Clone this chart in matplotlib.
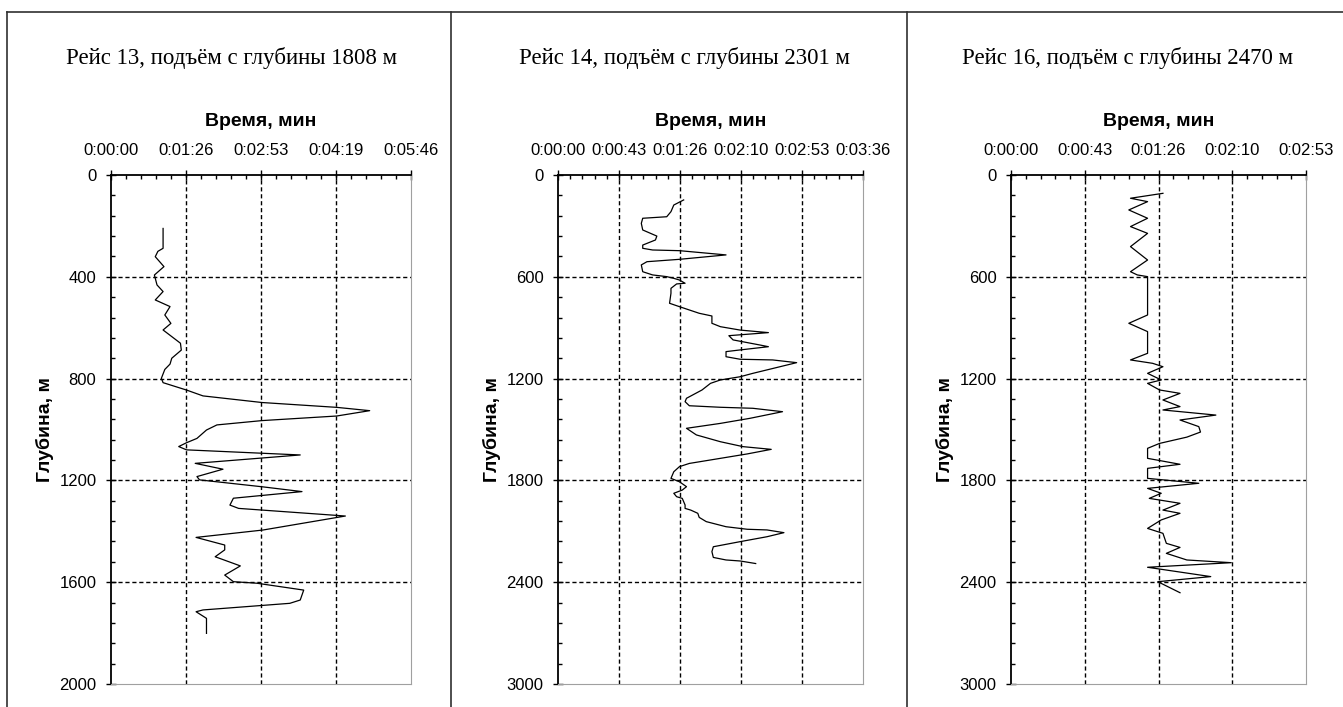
import numpy as np
import matplotlib
matplotlib.use('Agg')
import matplotlib.pyplot as plt
from matplotlib.ticker import FuncFormatter, MultipleLocator
from matplotlib.lines import Line2D

W, H = 1343, 707

# ---- data: time (s) vs depth (m) ----
titles = ['Рейс 13, подъём с глубины 1808 м',
          'Рейс 14, подъём с глубины 2301 м',
          'Рейс 16, подъём с глубины 2470 м']

t13 = [60, 60, 54, 51, 61, 50, 53, 60, 51, 68, 62, 69, 60, 80, 81, 70, 68, 62, 58, 60,
       87, 106, 174, 260, 298, 260, 174, 122, 110, 99, 87, 78, 87, 218, 97, 129, 99, 102,
       174, 220, 141, 137, 147, 270, 175, 98, 131, 131, 120, 149, 131, 141, 168, 222, 218,
       206, 106, 98, 110, 110]
d13 = [210, 288, 300, 321, 360, 393, 432, 458, 491, 517, 550, 583, 609, 661, 688, 720, 743,
       764, 799, 816, 845, 868, 894, 913, 926, 947, 965, 982, 1002, 1035, 1052, 1067, 1080,
       1100, 1133, 1156, 1185, 1198, 1225, 1244, 1270, 1297, 1310, 1340, 1395, 1424, 1454,
       1473, 1500, 1536, 1572, 1598, 1604, 1631, 1670, 1683, 1709, 1716, 1742, 1801]

t14 = [89, 82, 80, 77, 60, 59, 60, 70, 69, 60, 60, 67, 86, 119, 86, 63, 59, 60, 67, 77, 82,
       86, 90, 84, 80, 80, 79, 86, 100, 109, 109, 115, 129, 149, 121, 124, 143, 149, 129,
       119, 119, 129, 152, 169, 138, 129, 115, 108, 102, 91, 90, 93, 115, 138, 159, 136,
       115, 91, 98, 115, 131, 151, 134, 115, 93, 86, 82, 80, 86, 91, 88, 82, 84, 88, 90,
       90, 94, 99, 100, 105, 119, 134, 148, 160, 148, 129, 110, 109, 110, 119, 129, 140]
d14 = [147, 177, 216, 246, 255, 285, 324, 360, 383, 413, 432, 442, 446, 471, 497, 511, 530,
       570, 589, 599, 609, 619, 638, 642, 668, 697, 756, 776, 815, 831, 874, 894, 914, 929,
       947, 972, 1002, 1012, 1031, 1041, 1071, 1086, 1090, 1106, 1169, 1189, 1208, 1228,
       1267, 1316, 1336, 1360, 1369, 1375, 1395, 1434, 1464, 1493, 1532, 1572, 1601, 1617,
       1644, 1670, 1700, 1719, 1749, 1788, 1808, 1837, 1857, 1876, 1896, 1906, 1945, 1965,
       1975, 1994, 2018, 2043, 2073, 2088, 2092, 2108, 2132, 2161, 2191, 2220, 2254, 2269,
       2275, 2290]

t16 = [89, 70, 80, 69, 80, 70, 80, 70, 80, 70, 74, 80, 80, 80, 69, 80, 80, 70, 83, 89, 80,
       88, 80, 87, 99, 89, 99, 89, 120, 99, 110, 111, 103, 87, 80, 80, 99, 80, 80, 110, 80,
       88, 81, 99, 89, 99, 88, 80, 89, 91, 99, 91, 103, 129, 80, 117, 86, 99]
d16 = [108, 137, 157, 206, 255, 304, 344, 422, 501, 570, 589, 599, 619, 825, 874, 923, 1051,
       1090, 1110, 1130, 1169, 1208, 1228, 1267, 1287, 1326, 1365, 1385, 1415, 1444, 1483,
       1515, 1545, 1582, 1611, 1670, 1705, 1729, 1788, 1817, 1847, 1876, 1906, 1935, 1975,
       1994, 2033, 2083, 2112, 2171, 2195, 2230, 2269, 2285, 2312, 2367, 2397, 2462]

series = [(t13, d13), (t14, d14), (t16, d16)]
x_max = [345.6, 216.0, 172.8]      # 0.004, 0.0025, 0.002 сут
x_step = [86.4, 43.2, 43.2]
y_max = [2000, 3000, 3000]
y_step = [400, 600, 600]

# ---- layout (pixels) ----
plot_boxes = [(111, 411), (558, 863), (1011, 1306)]
top_px, bot_px = 175, 684
title_x = [231, 684, 1128]
ylab_x = [45, 492, 945]


def fx(x):
    return x / W


def fy(y):
    return 1 - y / H


def hms(v, pos):
    s = int(round(v))
    return '%d:%02d:%02d' % (s // 3600, (s // 60) % 60, s % 60)


sans = 'Liberation Sans'
serif = 'Liberation Serif'

fig = plt.figure(figsize=(W / 100, H / 100), dpi=100)

for i in range(3):
    l, r = plot_boxes[i]
    ax = fig.add_axes([fx(l), fy(bot_px), (r - l) / W, (bot_px - top_px) / H])
    t, d = series[i]
    ax.plot(t, d, color='black', lw=0.9)
    ax.set_xlim(0, x_max[i])
    ax.set_ylim(y_max[i], 0)
    ax.set_xticks(np.arange(0, x_max[i] + 1e-6, x_step[i]))
    ax.set_yticks(np.arange(0, y_max[i] + 1, y_step[i]))
    ax.xaxis.set_minor_locator(MultipleLocator(x_step[i] / 5))
    ax.yaxis.set_minor_locator(MultipleLocator(y_step[i] / 5))
    ax.xaxis.set_major_formatter(FuncFormatter(hms))
    ax.xaxis.tick_top()
    ax.tick_params(which='major', direction='inout', length=7, width=1, color='black',
                   labelsize=12, pad=9)
    ax.tick_params(which='minor', direction='in', length=3, width=1, color='black')
    ax.tick_params(axis='y', pad=7)
    for lab in ax.get_xticklabels() + ax.get_yticklabels():
        lab.set_fontfamily(sans)
    ax.grid(True, which='major', color='black', lw=1, linestyle=(0, (3, 2)))
    for gl in (ax.get_xgridlines()[0], ax.get_xgridlines()[-1],
               ax.get_ygridlines()[0], ax.get_ygridlines()[-1]):
        gl.set_visible(False)
    ax.spines['top'].set_color('black')
    ax.spines['left'].set_color('black')
    ax.spines['top'].set_linewidth(1.3)
    ax.spines['left'].set_linewidth(1.3)
    ax.spines['right'].set_color('#a0a0a0')
    ax.spines['bottom'].set_color('#a0a0a0')

    fig.text(fx(title_x[i]), fy(58), titles[i], ha='center', va='center',
             fontfamily=serif, fontsize=16.5)
    fig.text(fx((l + r) / 2), fy(121), 'Время, мин', ha='center', va='center',
             fontfamily=sans, fontweight='bold', fontsize=14)
    fig.text(fx(ylab_x[i]), fy((top_px + bot_px) / 2), 'Глубина, м', ha='center',
             va='center', rotation=90, fontfamily=sans, fontweight='bold', fontsize=14)

# chart frames
frame = dict(color='#303030', lw=1.2, transform=fig.transFigure)
fig.add_artist(Line2D([fx(7), 1], [fy(12), fy(12)], **frame))
for xp in (7, 451, 907):
    fig.add_artist(Line2D([fx(xp), fx(xp)], [fy(12), 0], **frame))

fig.savefig('out.png', dpi=100)
